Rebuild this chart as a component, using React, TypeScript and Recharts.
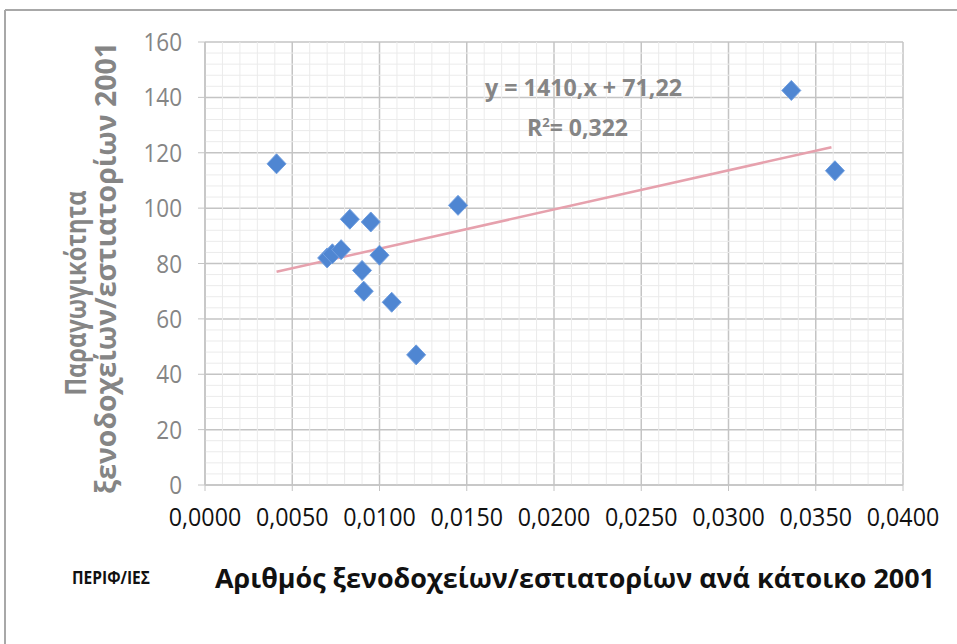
import { ScatterChart, Scatter, XAxis, YAxis, CartesianGrid, ReferenceLine } from 'recharts';

// hotels/restaurants per inhabitant (x) vs productivity (y), 2001
const perInhabitant = [0.0041, 0.007, 0.0073, 0.0078, 0.0083, 0.009, 0.0091, 0.0095, 0.01, 0.0107, 0.0121, 0.0145, 0.0336, 0.0361];
const productivity = [116, 82, 83.5, 85, 96, 77.5, 70, 95, 83, 66, 47, 101, 142.5, 113.5];

const xTicks = [0, 0.005, 0.01, 0.015, 0.02, 0.025, 0.03, 0.035, 0.04];
const yTicks = [0, 20, 40, 60, 80, 100, 120, 140, 160];

// trendline ends
const trendStart = { x: 0.0041, y: 77 };
const trendEnd = { x: 0.0359, y: 122 };

const equationText = 'y = 1410,x + 71,22';
const r2Text = '0,322';

const points = perInhabitant.map((x, i) => ({ x, y: productivity[i] }));

// light minor grid, 5 steps between major lines
const minorX: number[] = [];
for (let i = 1; i < 40; i++) if (i % 5 !== 0) minorX.push(i / 1000);
const minorY: number[] = [];
for (let v = 4; v < 160; v += 4) if (v % 20 !== 0) minorY.push(v);

const FONT = "'Open Sans', 'DejaVu Sans', sans-serif";
const GREY = '#858585';

const Diamond = (props: any) => {
  const { cx, cy } = props;
  if (cx == null || cy == null) return null;
  const w = 9.5;
  const h = 10;
  return (
    <polygon
      points={`${cx},${cy - h} ${cx + w},${cy} ${cx},${cy + h} ${cx - w},${cy}`}
      fill="#4f86d2"
      stroke="#6f9ee0"
      strokeWidth={1}
    />
  );
};

const fmtX = (v: number) => v.toFixed(4).replace('.', ',');

const XTick = (props: any) => {
  const { x, y, payload } = props;
  return (
    <text
      transform={`translate(${x},${y}) scale(0.93,1)`}
      textAnchor="middle"
      dy="0.75em"
      fill="#111"
      fontFamily={FONT}
      fontSize={25}
    >
      {fmtX(payload.value)}
    </text>
  );
};

const YTick = (props: any) => {
  const { x, y, payload } = props;
  return (
    <text
      transform={`translate(${x},${y}) scale(0.9,1)`}
      textAnchor="end"
      dy="0.36em"
      fill={GREY}
      fontFamily={FONT}
      fontSize={25}
    >
      {payload.value}
    </text>
  );
};

export default function App() {
  return (
    <div style={{ position: 'absolute', left: 0, top: 0, width: 957, height: 644, background: '#fff' }}>
      <ScatterChart width={957} height={644} margin={{ top: 42, right: 54, bottom: 119, left: 145 }}>
        {minorX.map((v) => (
          <ReferenceLine key={'mx' + v} x={v} stroke="#ebebeb" strokeWidth={1} />
        ))}
        {minorY.map((v) => (
          <ReferenceLine key={'my' + v} y={v} stroke="#ebebeb" strokeWidth={1} />
        ))}
        <CartesianGrid stroke="#c4c4c4" strokeWidth={1.5} />
        <XAxis
          type="number"
          dataKey="x"
          domain={[0, 0.04]}
          ticks={xTicks}
          height={40}
          axisLine={{ stroke: '#c4c4c4', strokeWidth: 1.5 }}
          tickLine={{ stroke: '#c4c4c4' }}
          tickSize={6}
          tickMargin={16}
          tick={<XTick />}
          interval={0}
        />
        <YAxis
          type="number"
          dataKey="y"
          domain={[0, 160]}
          ticks={yTicks}
          width={60}
          axisLine={{ stroke: '#c4c4c4', strokeWidth: 1.5 }}
          tickLine={{ stroke: '#c4c4c4' }}
          tickSize={7}
          tickMargin={16}
          tick={<YTick />}
          interval={0}
        />
        <ReferenceLine
          segment={[trendStart, trendEnd]}
          stroke="#e6a1ad"
          strokeWidth={2.5}
          ifOverflow="visible"
        />
        <Scatter data={points} shape={Diamond} isAnimationActive={false} />
      </ScatterChart>
      <svg
        width={957}
        height={644}
        style={{ position: 'absolute', left: 0, top: 0, pointerEvents: 'none' }}
      >
        <line x1={5} y1={10} x2={957} y2={10} stroke="#a8a8a8" strokeWidth={2} />
        <line x1={5} y1={10} x2={5} y2={644} stroke="#a8a8a8" strokeWidth={2} />
        <text
          x={485}
          y={96}
          textLength={197}
          lengthAdjust="spacingAndGlyphs"
          fill={GREY}
          fontFamily={FONT}
          fontWeight="bold"
          fontSize={23}
        >
          {equationText}
        </text>
        <text x={527} y={136} fill={GREY} fontFamily={FONT} fontWeight="bold" fontSize={23}>
          R<tspan dy={-9} fontSize={13}>2</tspan>
          <tspan dy={9}>= {r2Text}</tspan>
        </text>
        <text
          transform="translate(86,293) rotate(-90)"
          textAnchor="middle"
          textLength={205}
          lengthAdjust="spacingAndGlyphs"
          fill={GREY}
          fontFamily={FONT}
          fontWeight="bold"
          fontSize={28}
        >
          Παραγωγικότητα
        </text>
        <text
          transform="translate(116,268) rotate(-90)"
          textAnchor="middle"
          textLength={452}
          lengthAdjust="spacingAndGlyphs"
          fill={GREY}
          fontFamily={FONT}
          fontWeight="bold"
          fontSize={28}
        >
          ξενοδοχείων/εστιατορίων 2001
        </text>
        <text
          x={72}
          y={584}
          textLength={78}
          lengthAdjust="spacingAndGlyphs"
          fill="#111"
          fontFamily={FONT}
          fontWeight="bold"
          fontSize={18}
        >
          ΠΕΡΙΦ/ΙΕΣ
        </text>
        <text
          x={215}
          y={588}
          textLength={720}
          lengthAdjust="spacingAndGlyphs"
          fill="#111"
          fontFamily={FONT}
          fontWeight="bold"
          fontSize={26}
        >
          Αριθμός ξενοδοχείων/εστιατορίων ανά κάτοικο 2001
        </text>
      </svg>
    </div>
  );
}
